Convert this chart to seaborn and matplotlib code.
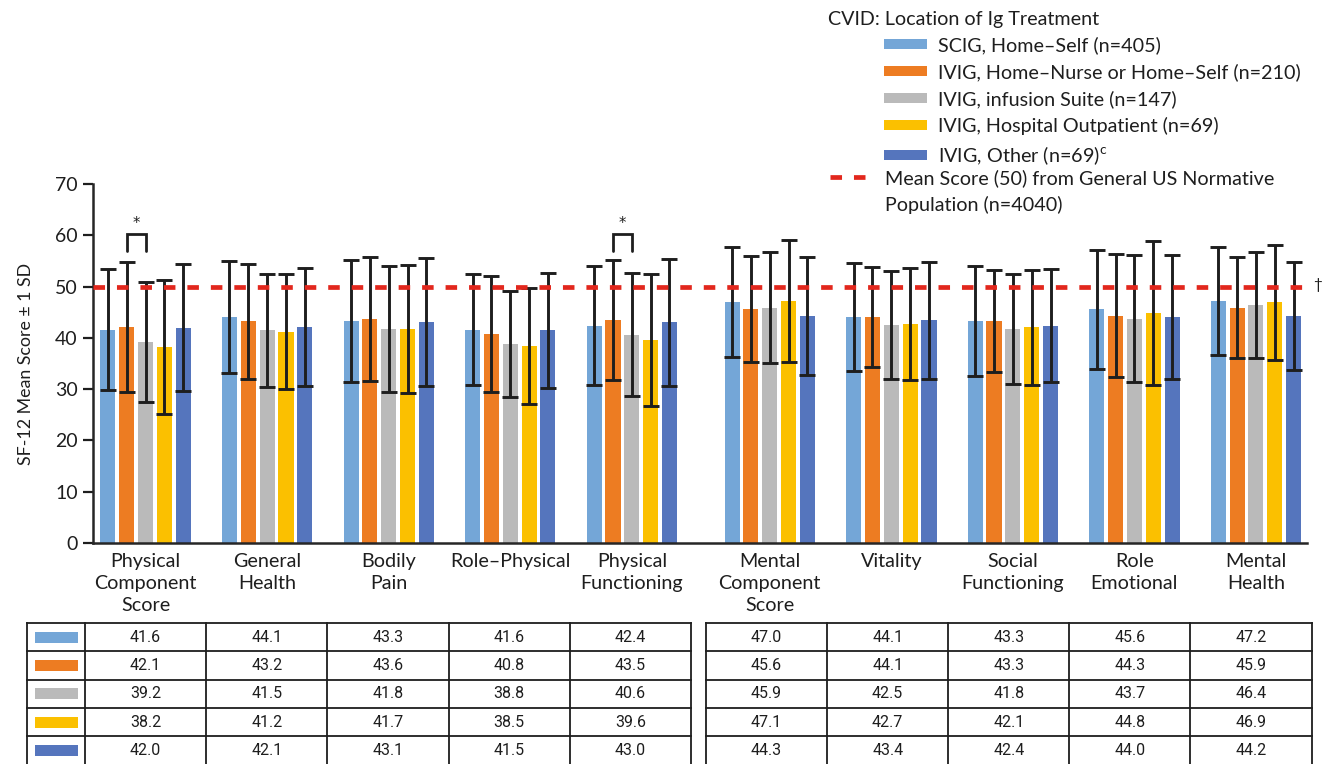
import numpy as np
import pandas as pd
import matplotlib
matplotlib.use("Agg")
import matplotlib.pyplot as plt
import seaborn as sns
from matplotlib.patches import Patch, Rectangle
from matplotlib.lines import Line2D

# ---------------- data ----------------
domains = ["Physical\nComponent\nScore", "General\nHealth", "Bodily\nPain", "Role–Physical",
           "Physical\nFunctioning", "Mental\nComponent\nScore", "Vitality", "Social\nFunctioning",
           "Role\nEmotional", "Mental\nHealth"]
groups = ["SCIG, Home–Self (n=405)",
          "IVIG, Home–Nurse or Home–Self (n=210)",
          "IVIG, infusion Suite (n=147)",
          "IVIG, Hospital Outpatient (n=69)",
          "IVIG, Other (n=69)$^{\\mathregular{c}}$"]

scig_mean = [41.6, 44.1, 43.3, 41.6, 42.4, 47.0, 44.1, 43.3, 45.6, 47.2]
home_mean = [42.1, 43.2, 43.6, 40.8, 43.5, 45.6, 44.1, 43.3, 44.3, 45.9]
suite_mean = [39.2, 41.5, 41.8, 38.8, 40.6, 45.9, 42.5, 41.8, 43.7, 46.4]
hosp_mean = [38.2, 41.2, 41.7, 38.5, 39.6, 47.1, 42.7, 42.1, 44.8, 46.9]
other_mean = [42.0, 42.1, 43.1, 41.5, 43.0, 44.3, 43.4, 42.4, 44.0, 44.2]

scig_sd = [11.8, 10.9, 11.9, 10.8, 11.6, 10.8, 10.5, 10.8, 11.6, 10.5]
home_sd = [12.6, 11.2, 12.1, 11.3, 11.7, 10.4, 9.8, 9.9, 12.0, 9.8]
suite_sd = [11.7, 11.0, 12.3, 10.4, 12.0, 10.8, 10.6, 10.7, 12.4, 10.3]
hosp_sd = [13.1, 11.2, 12.5, 11.3, 12.9, 11.9, 10.9, 11.2, 14.0, 11.2]
other_sd = [12.4, 11.5, 12.4, 11.2, 12.4, 11.5, 11.4, 11.1, 12.1, 10.5]

norm_mean = 50
norm_label = "Mean Score (50) from General US Normative"
norm_label2 = "Population (n=4040)"
legend_title = "CVID: Location of Ig Treatment"
ylabel = "SF-12 Mean Score ± 1 SD"
yticks = [0, 10, 20, 30, 40, 50, 60, 70]
sig_domains = [0, 4]   # '*' between IVIG home and IVIG infusion suite

means = [scig_mean, home_mean, suite_mean, hosp_mean, other_mean]
sds = [scig_sd, home_sd, suite_sd, hosp_sd, other_sd]

# ---------------- style ----------------
colors = ["#74A6D7", "#ED7C22", "#BABABA", "#FBC000", "#5575BD"]
red = "#E2271D"
ink = "#1E1E1E"
sns.set_theme(style="white")
plt.rcParams["font.family"] = ["Lato", "DejaVu Sans"]
plt.rcParams["lines.scale_dashes"] = False
narrow = ["Liberation Sans Narrow", "Roboto", "DejaVu Sans"]
fs = 14.2

W, H = 1330, 764
fig = plt.figure(figsize=(W / 100, H / 100), dpi=100)
ax = fig.add_axes([93 / W, (H - 543) / H, (1307 - 93) / W, (543 - 184) / H])

# group positions (small extra gap between physical and mental blocks)
idx = np.arange(len(domains))
pos = idx + np.where(idx >= 5, 0.135, 0.0)

rows = []
for g, m in zip(groups, means):
    for p, v in zip(pos, m):
        rows.append({"pos": p, "group": g, "score": v})
df = pd.DataFrame(rows)

sns.barplot(data=df, x="pos", y="score", hue="group", hue_order=groups, palette=colors,
            native_scale=True, width=0.775, gap=0.2, errorbar=None, saturation=1,
            linewidth=0, legend=False, ax=ax)

# error bars (± 1 SD) at the bar centres produced by seaborn
bar_containers = list(ax.containers)
centers = {}
for hi, cont in enumerate(bar_containers):
    xs, ys, es = [], [], []
    for bar in cont:
        cx = bar.get_x() + bar.get_width() / 2
        di = int(np.argmin(np.abs(pos - cx)))
        centers[(hi, di)] = cx
        xs.append(cx)
        ys.append(bar.get_height())
        es.append(sds[hi][di])
    ax.errorbar(xs, ys, yerr=es, fmt="none", ecolor=ink, elinewidth=2.1,
                capsize=5.8, capthick=2.1, zorder=4)

ax.axhline(norm_mean, color=red, lw=3.4, dashes=(8.3, 8.6), zorder=5)

# significance brackets
for di in sig_domains:
    x1, x2 = centers[(1, di)], centers[(2, di)]
    ax.plot([x1, x1, x2, x2], [57.0, 60.2, 60.2, 57.0], color=ink, lw=2.0,
            solid_joinstyle="miter", zorder=4)
    ax.text((x1 + x2) / 2, 62.3, "*", ha="center", va="center", fontsize=10.5,
            family="DejaVu Sans", color=ink)

ax.text(1.009, norm_mean + 0.3, "†", transform=ax.get_yaxis_transform(),
        ha="center", va="center", fontsize=11, color=ink)

ax.set_xlim(-0.433, pos[-1] + 0.42)
ax.set_ylim(0, 70)
ax.set_yticks(yticks)
ax.set_xticks(pos)
ax.set_xticklabels(domains, fontsize=14.2, linespacing=1.38)
ax.tick_params(axis="x", length=0, pad=7, colors=ink)
ax.tick_params(axis="y", length=7, width=1.6, direction="out", pad=4,
               labelsize=14, colors=ink, left=True)
ax.set_xlabel("")
ax.set_ylabel(ylabel, fontsize=12.8, color=ink)
ax.yaxis.set_label_coords(-0.049, 0.5)
for s in ["top", "right"]:
    ax.spines[s].set_visible(False)
for s in ["left", "bottom"]:
    ax.spines[s].set_color("#262626")
    ax.spines[s].set_linewidth(1.8)

# ---------------- legend ----------------
fig.text(828 / W, 1 - 19 / H, legend_title, ha="left", va="center", fontsize=fs, color=ink)
patch_handles = [Patch(facecolor=c, edgecolor="none") for c in colors]
leg1 = fig.legend(patch_handles, groups, loc="upper left",
                  bbox_to_anchor=(884 / W, 1 - 36 / H), frameon=False, fontsize=fs,
                  handlelength=2.2, handleheight=0.42, handletextpad=0.52,
                  labelspacing=0.46, borderpad=0, borderaxespad=0)
for t in leg1.get_texts():
    t.set_color(ink)
line_handle = Line2D([], [], color=red, lw=3.4, dashes=(8.3, 8.6))
leg2 = fig.legend([line_handle], [norm_label], loc="upper left",
                  bbox_to_anchor=(830 / W, 1 - 169 / H), frameon=False, fontsize=fs,
                  handlelength=1.9, handletextpad=0.9, borderpad=0, borderaxespad=0)
leg2.get_texts()[0].set_color(ink)

fig.canvas.draw()
bb = leg2.get_texts()[0].get_window_extent()
fig.text(bb.x0 / W, (bb.y0 + bb.y1) / 2 / H - 27 / H, norm_label2, ha="left", va="center",
         fontsize=fs, color=ink)

# ---------------- table ----------------
tax = fig.add_axes([0, 0, 1, 1])
tax.set_xlim(0, W)
tax.set_ylim(H, 0)
tax.axis("off")

row_top, row_h = 623, 28.3
row_edges = [row_top + k * row_h for k in range(len(groups) + 1)]
left_edges = [27, 85] + [85 + 121.2 * k for k in range(1, 6)]
right_edges = [706 + 121.1 * k for k in range(6)]

for edges in (left_edges, right_edges):
    for y in row_edges:
        tax.plot([edges[0], edges[-1]], [y, y], color=ink, lw=1.3, solid_capstyle="projecting")
    for x in edges:
        tax.plot([x, x], [row_edges[0], row_edges[-1]], color=ink, lw=1.3,
                 solid_capstyle="projecting")

for r in range(len(groups)):
    yc = (row_edges[r] + row_edges[r + 1]) / 2
    tax.add_patch(Rectangle((left_edges[0] + 7.5, yc - 5.5), left_edges[1] - left_edges[0] - 15, 11,
                            facecolor=colors[r], edgecolor="none"))
    for d in range(5):
        xc = (left_edges[d + 1] + left_edges[d + 2]) / 2
        tax.text(xc, yc, f"{means[r][d]:.1f}", ha="center", va="center", fontsize=11.5,
                 family=narrow, color=ink)
    for d in range(5, 10):
        k = d - 5
        xc = (right_edges[k] + right_edges[k + 1]) / 2
        tax.text(xc, yc, f"{means[r][d]:.1f}", ha="center", va="center", fontsize=11.5,
                 family=narrow, color=ink)

fig.savefig("out.png", dpi=100)
